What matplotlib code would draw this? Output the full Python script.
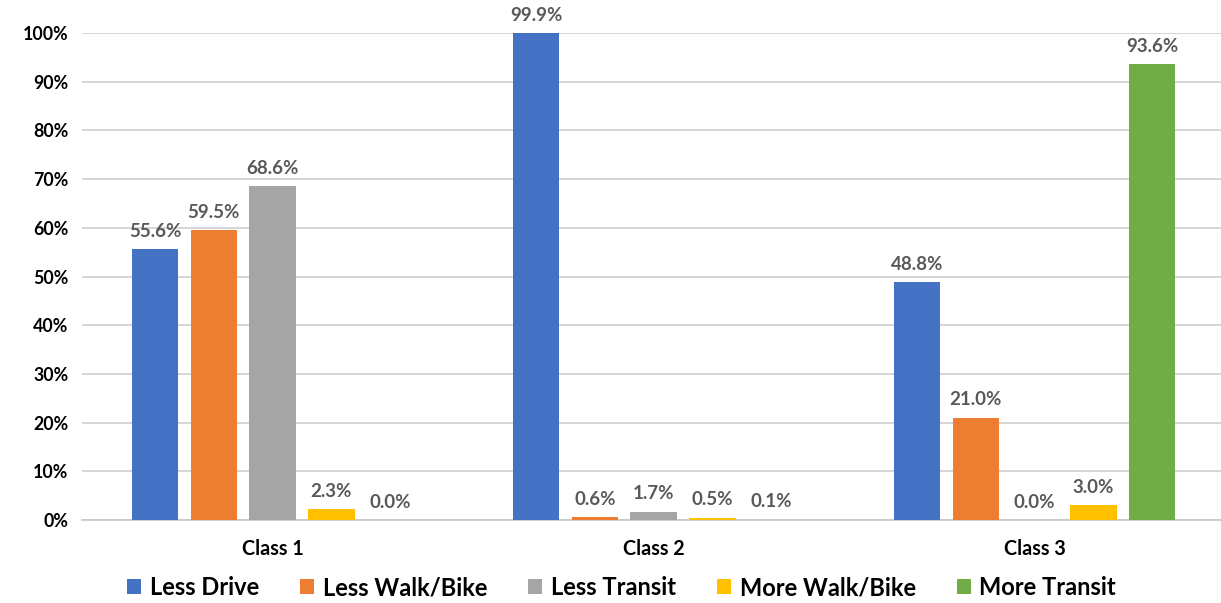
import numpy as np
import matplotlib.pyplot as plt
from matplotlib.ticker import FuncFormatter

classes = ["Class 1", "Class 2", "Class 3"]
series = ["Less Drive", "Less Walk/Bike", "Less Transit", "More Walk/Bike", "More Transit"]
less_drive = [55.6, 99.9, 48.8]
less_walk = [59.5, 0.6, 21.0]
less_transit = [68.6, 1.7, 0.0]
more_walk = [2.3, 0.5, 3.0]
more_transit = [0.0, 0.1, 93.6]
colors = ["#4472c4", "#ed7d31", "#a5a5a5", "#ffc000", "#70ad47"]

plt.rcParams['font.family'] = ['Lato', 'DejaVu Sans']

fig = plt.figure(figsize=(12.21, 6.03), dpi=100)
# axes run a little past the right edge, as in the cropped original
ax = fig.add_axes([0.0672, 0.1376, 0.9361, 0.8077])

x = np.arange(len(classes))
step = 0.1543
width = 0.122
all_vals = [less_drive, less_walk, less_transit, more_walk, more_transit]
for i, (vals, name, c) in enumerate(zip(all_vals, series, colors)):
    pos = x + (i - 2) * step
    ax.bar(pos, vals, width, color=c, label=name, zorder=3)
    for p, v in zip(pos, vals):
        ax.text(p, v + 1.9, f"{v:.1f}%", ha="center", va="bottom",
                fontsize=13.5, fontweight="bold", color="#595959")

ax.set_xlim(-0.5, 2.5)
ax.set_ylim(0, 100)
ax.set_yticks(np.arange(0, 101, 10))
ax.yaxis.set_major_formatter(FuncFormatter(lambda v, _: f"{v:.0f}%"))
ax.set_xticks(x)
ax.set_xticklabels(classes)
ax.tick_params(axis="y", length=0, labelsize=12.8, pad=10)
ax.tick_params(axis="x", length=0, labelsize=14.2, pad=14)
for lbl in ax.get_yticklabels() + ax.get_xticklabels():
    lbl.set_fontweight("bold")
ax.grid(axis="y", color="#d0d0d0", linewidth=1.2, zorder=0)
for s in ["top", "right", "left"]:
    ax.spines[s].set_visible(False)
ax.spines["bottom"].set_color("#c8c8c8")
ax.spines["bottom"].set_linewidth(1.2)

leg = ax.legend(loc="center", bbox_to_anchor=(0.472, -0.139), ncol=5,
                frameon=False, prop={"size": 17, "weight": "bold"},
                handlelength=0.6, handleheight=0.6, handletextpad=0.35,
                columnspacing=1.75, borderpad=0)

fig.savefig("out.png", dpi=100)
